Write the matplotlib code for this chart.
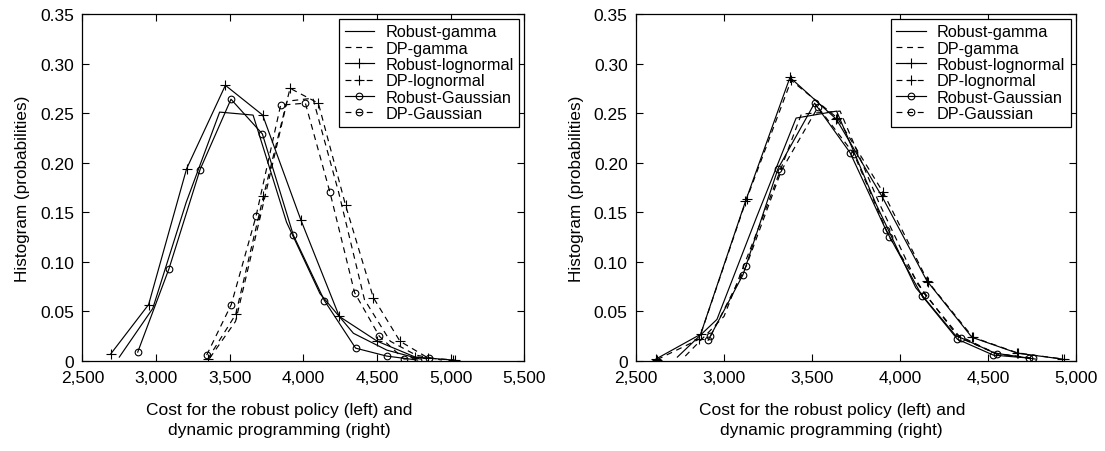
import matplotlib
matplotlib.use("Agg")
import matplotlib.pyplot as plt
from matplotlib.ticker import FuncFormatter, MultipleLocator

plt.rcParams['font.family'] = ['Liberation Sans', 'DejaVu Sans']

# ---------------- Left panel data ----------------
L_rob_gamma_x = [2751, 2978, 3205, 3432, 3659, 3886, 4113, 4340, 4567, 4794]
L_rob_gamma_y = [0.004, 0.053, 0.160, 0.251, 0.248, 0.140, 0.068, 0.028, 0.011, 0.002]
L_dp_gamma_x = [3365, 3540, 3715, 3890, 4065, 4240, 4415, 4590, 4765, 4940]
L_dp_gamma_y = [0.003, 0.040, 0.150, 0.262, 0.265, 0.170, 0.062, 0.020, 0.006, 0.001]
L_rob_logn_x = [2692, 2950, 3208, 3471, 3724, 3984, 4244, 4502, 4760, 5018]
L_rob_logn_y = [0.007, 0.057, 0.194, 0.278, 0.248, 0.142, 0.045, 0.020, 0.004, 0.001]
L_dp_logn_x = [3351, 3541, 3729, 3910, 4102, 4287, 4475, 4656, 4848, 5029]
L_dp_logn_y = [0.002, 0.047, 0.166, 0.275, 0.260, 0.157, 0.064, 0.020, 0.003, 0.001]
L_rob_gaus_x = [2876, 3088, 3299, 3509, 3722, 3932, 4143, 4355, 4566, 4776]
L_rob_gaus_y = [0.009, 0.093, 0.193, 0.264, 0.229, 0.127, 0.061, 0.013, 0.005, 0.001]
L_dp_gaus_x = [3344, 3511, 3679, 3846, 4014, 4181, 4348, 4516, 4683, 4851]
L_dp_gaus_y = [0.006, 0.057, 0.146, 0.258, 0.260, 0.170, 0.069, 0.025, 0.002, 0.003]

# ---------------- Right panel data ----------------
R_rob_gamma_x = [2735, 2960, 3185, 3410, 3640, 3865, 4090, 4315, 4540, 4770]
R_rob_gamma_y = [0.004, 0.042, 0.145, 0.245, 0.252, 0.158, 0.074, 0.026, 0.008, 0.002]
R_dp_gamma_x = [2780, 3000, 3220, 3440, 3660, 3880, 4100, 4320, 4540, 4760]
R_dp_gamma_y = [0.005, 0.045, 0.145, 0.249, 0.252, 0.160, 0.078, 0.027, 0.008, 0.002]
R_rob_logn_x = [2613, 2867, 3122, 3375, 3638, 3898, 4153, 4409, 4667, 4923]
R_rob_logn_y = [0.002, 0.027, 0.161, 0.286, 0.244, 0.166, 0.081, 0.024, 0.008, 0.002]
R_dp_logn_x = [2620, 2858, 3128, 3382, 3645, 3905, 4160, 4415, 4672, 4930]
R_dp_logn_y = [0.0015, 0.022, 0.163, 0.283, 0.245, 0.170, 0.080, 0.024, 0.008, 0.002]
R_rob_gaus_x = [2910, 3108, 3307, 3515, 3717, 3921, 4125, 4327, 4531, 4734]
R_rob_gaus_y = [0.021, 0.087, 0.194, 0.260, 0.210, 0.132, 0.066, 0.022, 0.006, 0.003]
R_dp_gaus_x = [2923, 3127, 3326, 3534, 3738, 3940, 4144, 4346, 4554, 4757]
R_dp_gaus_y = [0.025, 0.096, 0.192, 0.256, 0.209, 0.125, 0.067, 0.023, 0.007, 0.003]

labels = ["Robust-gamma", "DP-gamma", "Robust-lognormal", "DP-lognormal",
          "Robust-Gaussian", "DP-Gaussian"]
x_label = "Cost for the robust policy (left) and\ndynamic programming (right)"
y_label = "Histogram (probabilities)"

left_series = [(L_rob_gamma_x, L_rob_gamma_y), (L_dp_gamma_x, L_dp_gamma_y),
               (L_rob_logn_x, L_rob_logn_y), (L_dp_logn_x, L_dp_logn_y),
               (L_rob_gaus_x, L_rob_gaus_y), (L_dp_gaus_x, L_dp_gaus_y)]
right_series = [(R_rob_gamma_x, R_rob_gamma_y), (R_dp_gamma_x, R_dp_gamma_y),
                (R_rob_logn_x, R_rob_logn_y), (R_dp_logn_x, R_dp_logn_y),
                (R_rob_gaus_x, R_rob_gaus_y), (R_dp_gaus_x, R_dp_gaus_y)]

styles = [
    dict(linestyle='-', marker=None),
    dict(linestyle=(0, (5, 4)), marker=None),
    dict(linestyle='-', marker='+', markersize=7),
    dict(linestyle=(0, (5, 4)), marker='+', markersize=7),
    dict(linestyle='-', marker='o', markersize=4.8, markerfacecolor='none'),
    dict(linestyle=(0, (5, 4)), marker='o', markersize=4.8, markerfacecolor='none'),
]

fig = plt.figure(figsize=(11.05, 4.52), dpi=100)
ax1 = fig.add_axes([0.0745, 0.199, 0.400, 0.768])
ax2 = fig.add_axes([0.5756, 0.199, 0.398, 0.768])


def xfmt(v, p):
    return f"{int(round(v)):,}"


def yfmt(v, p):
    if abs(v) < 1e-9:
        return "0"
    return f"{v:.2f}"


for ax, series, xlim in [(ax1, left_series, (2500, 5500)), (ax2, right_series, (2500, 5000))]:
    for (xs, ys), lab, st in zip(series, labels, styles):
        ax.plot(xs, ys, color='black', linewidth=0.85, markeredgewidth=0.8,
                label=lab, **st)
    ax.set_xlim(*xlim)
    ax.set_ylim(0, 0.35)
    ax.xaxis.set_major_locator(MultipleLocator(500))
    ax.yaxis.set_major_locator(MultipleLocator(0.05))
    ax.xaxis.set_major_formatter(FuncFormatter(xfmt))
    ax.yaxis.set_major_formatter(FuncFormatter(yfmt))
    ax.tick_params(direction='in', top=True, right=True, length=5, width=0.8,
                   labelsize=12.5)
    ax.tick_params(axis='y', pad=6)
    ax.tick_params(axis='x', pad=6.5)
    for s in ax.spines.values():
        s.set_linewidth(0.9)
    ax.set_xlabel(x_label, fontsize=12.5, labelpad=12, linespacing=1.45)
    ax.xaxis.label.set_x(0.445)
    ax.set_ylabel(y_label, fontsize=12.3, labelpad=7)
    leg = ax.legend(loc='upper right', fontsize=11.7, frameon=True, fancybox=False,
                    edgecolor='black', framealpha=1, handlelength=1.8,
                    labelspacing=0.08, borderpad=0.35, handletextpad=0.7,
                    borderaxespad=0.3)
    leg.get_frame().set_linewidth(0.9)

fig.savefig("out.png", dpi=100)
